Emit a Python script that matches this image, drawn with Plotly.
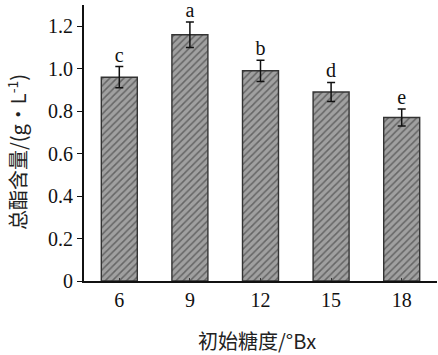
import plotly.graph_objects as go

categories = ["6", "9", "12", "15", "18"]
values = [0.96, 1.16, 0.99, 0.89, 0.77]
errors = [0.05, 0.06, 0.05, 0.045, 0.04]
letters = ["c", "a", "b", "d", "e"]

font = "Liberation Serif, Times New Roman, serif"
cjk = "Noto Sans CJK SC, Liberation Serif, serif"

fig = go.Figure()
fig.add_trace(go.Bar(
    x=categories, y=values, width=0.51,
    marker=dict(color="#9a9a9a", line=dict(color="#333333", width=1.4),
                pattern=dict(shape="/", fgcolor="#2a2a2a", bgcolor="#a0a0a0", size=5, solidity=0.3)),
    error_y=dict(type="data", array=errors, visible=True, color="#111111", thickness=1.5, width=4),
    showlegend=False,
))
fig.add_trace(go.Scatter(
    x=categories, y=[v + e for v, e in zip(values, errors)],
    mode="text", text=letters, textposition="top center",
    textfont=dict(family=font, size=20, color="#111111"), showlegend=False,
))
fig.update_layout(
    width=438, height=355, margin=dict(l=84, r=1, t=5, b=74),
    plot_bgcolor="white", paper_bgcolor="white",
    font=dict(family=font, color="#111111"),
    annotations=[
        dict(text="初始糖度/°Bx", xref="paper", yref="paper", x=0.49, y=-0.214,
             showarrow=False, xanchor="center", yanchor="middle",
             font=dict(size=20, family=cjk, color="#222222")),
        dict(text="总酯含量/(g•L<sup>-1</sup>)", xref="paper", yref="paper", x=-0.19, y=0.467,
             showarrow=False, xanchor="center", yanchor="middle", textangle=-90,
             font=dict(size=20, family=cjk, color="#222222")),
    ],
)
fig.update_xaxes(
    showline=True, linecolor="#111111", linewidth=1.8,
    ticks="inside", ticklen=3, tickcolor="#333333", tickfont=dict(size=20, family=font),
    showgrid=False,
)
fig.update_yaxes(
    range=[0, 1.3], tickvals=[0, 0.2, 0.4, 0.6, 0.8, 1.0, 1.2],
    ticktext=["0", "0.2", "0.4", "0.6", "0.8", "1.0", "1.2"],
    showline=True, linecolor="#111111", linewidth=1.8,
    ticks="outside", ticklen=5, tickcolor="#111111", tickfont=dict(size=20, family=font),
    showgrid=False, zeroline=False,
)
fig.write_html("out.html")
